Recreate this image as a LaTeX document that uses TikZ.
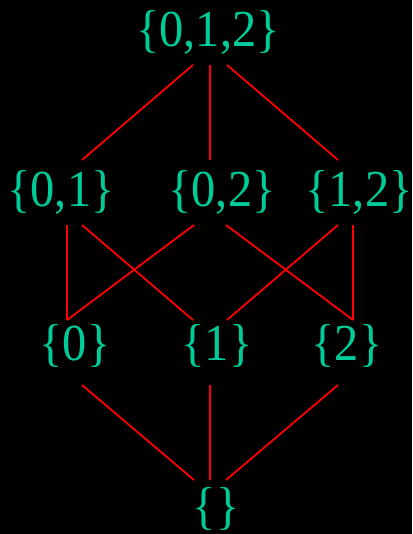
\documentclass[tikz,border=0pt]{standalone}
\usepackage{fontspec}
\setmainfont{Liberation Serif}
\definecolor{settxt}{RGB}{0,204,153}
\definecolor{edgered}{RGB}{255,0,0}
\newcommand{\tallset}[1]{\scalebox{1}[1.07]{#1}}
\begin{document}
\begin{tikzpicture}[x=1pt,y=-1pt,
  setnode/.style={text=settxt,font=\fontsize{48.5}{52}\selectfont,anchor=base,inner sep=0pt},
  edge/.style={draw=edgered,line width=1.8pt}]
\fill[black] (0,0) rectangle (412,534);
\useasboundingbox (0,0) rectangle (412,534);
% nodes
\node[setnode] (s012) at (208,47) {\tallset{\{0,1,2\}}};
\node[setnode] (s01) at (61,207) {\tallset{\{0,1\}}};
\node[setnode] (s02) at (222,207) {\tallset{\{0,2\}}};
\node[setnode] (s12) at (359,207) {\tallset{\{1,2\}}};
\node[setnode] (s0) at (75,360) {\tallset{\{0\}}};
\node[setnode] (s1) at (217,360) {\tallset{\{1\}}};
\node[setnode] (s2) at (347,360) {\tallset{\{2\}}};
\node[setnode] (se) at (216,523) {\tallset{\{\}}};
% connector ends
\coordinate (a1) at (193,65); \coordinate (a2) at (210,65); \coordinate (a3) at (227,65);
\coordinate (b1) at (82,160); \coordinate (b2) at (210,160); \coordinate (b3) at (338,160);
\coordinate (c1) at (67,225); \coordinate (c2) at (82,225); \coordinate (c3) at (194,225);
\coordinate (c4) at (226,225); \coordinate (c5) at (338,225); \coordinate (c6) at (353,225);
\coordinate (d1) at (67,320); \coordinate (d2) at (193,320); \coordinate (d3) at (227,320);
\coordinate (d4) at (353,320);
\coordinate (e1) at (82,385); \coordinate (e2) at (210,385); \coordinate (e3) at (338,385);
\coordinate (f1) at (194,480); \coordinate (f2) at (210,480); \coordinate (f3) at (226,480);
% edges
\draw[edge] (a1) -- (b1);
\draw[edge] (a2) -- (b2);
\draw[edge] (a3) -- (b3);
\draw[edge] (c1) -- (d1);
\draw[edge] (c2) -- (d2);
\draw[edge] (c3) -- (d1);
\draw[edge] (c4) -- (d4);
\draw[edge] (c5) -- (d3);
\draw[edge] (c6) -- (d4);
\draw[edge] (e1) -- (f1);
\draw[edge] (e2) -- (f2);
\draw[edge] (e3) -- (f3);
\end{tikzpicture}
\end{document}
